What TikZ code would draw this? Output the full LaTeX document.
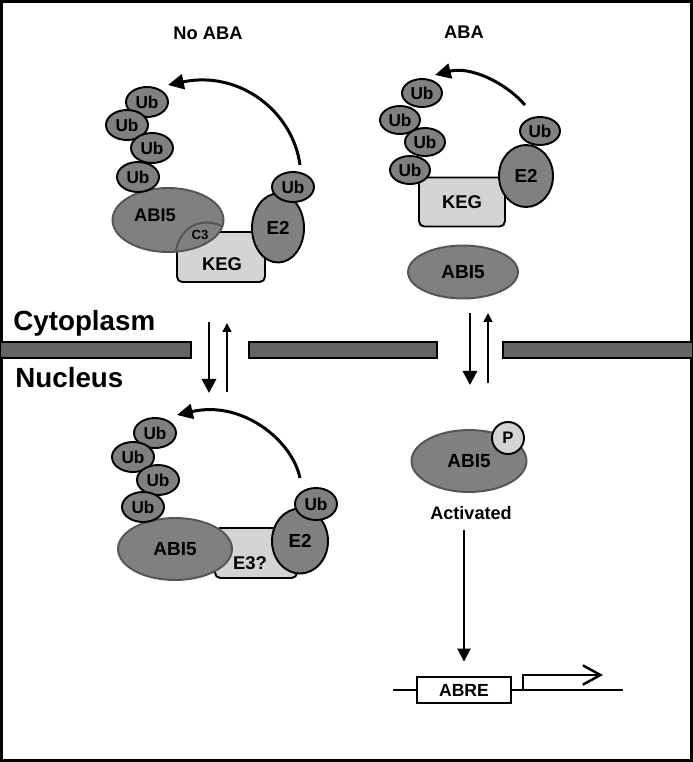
\documentclass[tikz,border=0pt]{standalone}
\usepackage{fontspec}
\setmainfont{Liberation Sans}
\usepackage{tikz}
\usetikzlibrary{arrows.meta,shapes}

\definecolor{protgray}{RGB}{128,128,128}
\definecolor{rimgray}{RGB}{85,85,85}
\definecolor{keggray}{RGB}{212,212,212}
\definecolor{memgray}{RGB}{100,100,100}

\tikzset{
  ub/.style={ellipse,draw,line width=1.1pt,fill=protgray,inner sep=0pt,
    minimum width=0.84cm,minimum height=0.6cm,font=\fontsize{9.8}{10}\selectfont\bfseries},
  ubs/.style={ub,minimum width=0.8cm,minimum height=0.56cm},
  prot/.style={ellipse,draw=rimgray,line width=1.1pt,fill=protgray,inner sep=0pt,
    font=\fontsize{10.8}{12}\selectfont\bfseries},
  etwo/.style={ellipse,draw,line width=1.1pt,fill=protgray,inner sep=0pt,
    font=\fontsize{10.7}{12}\selectfont\bfseries},
  keg/.style={rectangle,rounded corners=3pt,draw,line width=1.1pt,fill=keggray,inner sep=0pt,
    font=\fontsize{10.5}{12}\selectfont\bfseries},
  memb/.style={draw,line width=1.2pt,fill=memgray},
  lbl/.style={inner sep=0pt,font=\fontsize{10.4}{12}\selectfont\bfseries},
  big/.style={inner sep=0pt,font=\fontsize{15.8}{18}\selectfont\bfseries},
}

\begin{document}
\begin{tikzpicture}[x=0.02cm,y=-0.02cm]
\useasboundingbox (0,0) rectangle (693,762);
\draw[line width=1.7pt] (1.5,1.5) rectangle (691.5,760.5);

% labels
\node[lbl,anchor=base] (noaba) at (208,39) {No ABA};
\node[lbl,anchor=base] (aba) at (464,38) {ABA};
\node[big,anchor=base west] (cyto) at (13,330) {Cytoplasm};
\node[big,anchor=base west] (nucl) at (15,387) {Nucleus};

% membrane
\draw[memb] (0,342) rectangle (191,358);
\draw[memb] (249,342) rectangle (437,358);
\draw[memb] (503,342) rectangle (693,358);

% no ABA, cytoplasm
\node[keg,minimum width=1.76cm,minimum height=1cm] (KEGa) at (221,257) {};
\node[lbl,font=\fontsize{10.5}{12}\selectfont\bfseries] (KEGat) at (222,264) {KEG};
\node[prot,minimum width=2.22cm,minimum height=1.28cm] (ABIa) at (168,220) {};
\begin{scope}
  \clip (168,220) ellipse [x radius=55,y radius=32];
  \draw[rimgray,line width=1.1pt] (175,256) .. controls (178,228) and (200,214) .. (226,228);
\end{scope}
\node[lbl] (ABIat) at (155,215) {ABI5};
\node[lbl,font=\fontsize{7.5}{9}\selectfont\bfseries] (C3) at (200,235) {C3};
\node[etwo,minimum width=1.04cm,minimum height=1.38cm] (E2a) at (278,228) {E2};
\node[ub] (Ue) at (293,187) {Ub};
\node[ub] (U1) at (147,102) {Ub};
\node[ub] (U2) at (127,125) {Ub};
\node[ub] (U3) at (152,148) {Ub};
\node[ub] (U4) at (138,177) {Ub};
\coordinate (a1) at (300,165);
\coordinate (a2) at (168,85);
\draw[line width=1.7pt,-{Triangle[length=9pt,width=8.5pt]}] (a1) .. controls (293,112) and (240,70) .. (a2);

% ABA, cytoplasm
\node[keg,minimum width=1.72cm,minimum height=0.98cm] (KEGb) at (462,202) {KEG};
\node[etwo,minimum width=1.08cm,minimum height=1.24cm] (E2b) at (526,176) {E2};
\node[ubs] (Vf) at (540,131) {Ub};
\node[ubs] (V1) at (422,93) {Ub};
\node[ubs] (V2) at (400,120) {Ub};
\node[ubs] (V3) at (425,142) {Ub};
\node[ubs] (V4) at (410,170) {Ub};
\coordinate (b1) at (525,105);
\coordinate (b2) at (435,75);
\draw[line width=1.7pt,-{Triangle[length=9pt,width=8.5pt]}] (b1) .. controls (505,82) and (470,66) .. (b2);
\node[prot,minimum width=2.2cm,minimum height=1.06cm] (ABIb) at (463,272) {ABI5};

% transport
\coordinate (t1) at (209,322); \coordinate (t2) at (209,393);
\coordinate (t3) at (227,392); \coordinate (t4) at (227,323);
\coordinate (t5) at (470,313); \coordinate (t6) at (470,385);
\coordinate (t7) at (488,383); \coordinate (t8) at (488,313);
\draw[line width=1.7pt,-{Triangle[length=8pt,width=8pt]}] (t1) -- (t2);
\draw[line width=0.85pt,-{Triangle[length=5pt,width=5pt]}] (t3) -- (t4);
\draw[line width=1.7pt,-{Triangle[length=8pt,width=8pt]}] (t5) -- (t6);
\draw[line width=0.85pt,-{Triangle[length=5pt,width=5pt]}] (t7) -- (t8);

% no ABA, nucleus
\node[keg,minimum width=1.64cm,minimum height=1cm] (E3) at (256,553) {};
\node[lbl,font=\fontsize{10.5}{12}\selectfont\bfseries] (E3t) at (250,563) {E3?};
\node[prot,minimum width=2.28cm,minimum height=1.24cm] (ABIc) at (175,549) {ABI5};
\node[etwo,minimum width=1.12cm,minimum height=1.3cm] (E2c) at (300,541) {E2};
\node[ub,minimum height=0.64cm] (We) at (316,504) {Ub};
\node[ub] (W1) at (155,433) {Ub};
\node[ub] (W2) at (133,457) {Ub};
\node[ub] (W3) at (158,480) {Ub};
\node[ub] (W4) at (143,507) {Ub};
\coordinate (c1) at (300,478);
\coordinate (c2) at (177,415);
\draw[line width=1.7pt,-{Triangle[length=9pt,width=8.5pt]}] (c1) .. controls (292,440) and (242,400) .. (c2);

% ABA, nucleus
\node[prot,minimum width=2.3cm,minimum height=1.24cm] (ABId) at (469,461) {ABI5};
\node[circle,draw,line width=1.1pt,fill=keggray,inner sep=0pt,minimum size=0.64cm,
  font=\fontsize{9.5}{10}\selectfont\bfseries] (P) at (508,438) {P};
\node[lbl,anchor=base,font=\fontsize{10.3}{12}\selectfont\bfseries] (act) at (471,519) {Activated};
\coordinate (d1) at (464,530);
\coordinate (g1) at (393,690);
\coordinate (g2) at (623,690);
\coordinate (s1) at (523,690);
\coordinate (s2) at (603,675);
\draw[line width=1.4pt] (g1) -- (g2);
\node[draw,fill=white,line width=1.4pt,inner sep=0pt,minimum width=1.88cm,minimum height=0.52cm,
  font=\fontsize{10}{12}\selectfont\bfseries] (ABRE) at (464,690) {ABRE};
\draw[line width=1.2pt,-{Triangle[length=7.5pt,width=7.5pt]},shorten >=8pt] (d1) -- (ABRE.north);
\draw[line width=1.4pt,-{Straight Barb[length=10pt,width=11pt]}] (s1) |- (s2);
\end{tikzpicture}
\end{document}
